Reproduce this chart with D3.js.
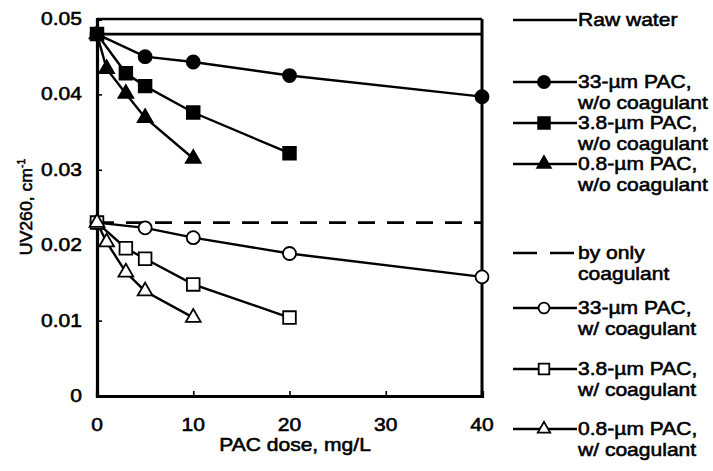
<!DOCTYPE html>
<html>
<head>
<meta charset="utf-8">
<script src="https://cdn.jsdelivr.net/npm/d3@7"></script>
<style>
  html, body { margin: 0; padding: 0; background: #fff; }
  svg { display: block; font-family: "Liberation Sans", Arial, sans-serif; }
  .lbl { fill: #000; stroke: #000; stroke-width: 0.55px; }
</style>
</head>
<body>
<svg id="chart" width="713" height="471"></svg>
<script>
// PAC dose (mg/L) and UV260 (cm^-1) for each run
const doses33 = [0, 5, 10, 20, 40];
const doses38 = [0, 3, 5, 10, 20];
const doses08 = [0, 1, 3, 5, 10];

const rawWater = 0.048;
const onlyCoagulant = 0.023;

const uv33NoCoag = [0.048, 0.0450, 0.0443, 0.0425, 0.0397];
const uv38NoCoag = [0.048, 0.0428, 0.0411, 0.0376, 0.0322];
const uv08NoCoag = [0.048, 0.0434, 0.0401, 0.0369, 0.0315];

const uv33Coag = [0.023, 0.0223, 0.0210, 0.0189, 0.0158];
const uv38Coag = [0.023, 0.0196, 0.0182, 0.0148, 0.0104];
const uv08Coag = [0.023, 0.0204, 0.0164, 0.0139, 0.0104];

const xTicks = [0, 10, 20, 30, 40];
const yTicks = [0, 0.01, 0.02, 0.03, 0.04, 0.05];
const yTickLabels = ["0", "0.01", "0.02", "0.03", "0.04", "0.05"];

const legendLabels = [
  ["Raw water"],
  ["33-µm PAC,", "w/o coagulant"],
  ["3.8-µm PAC,", "w/o coagulant"],
  ["0.8-µm PAC,", "w/o coagulant"],
  ["by only", "coagulant"],
  ["33-µm PAC,", "w/ coagulant"],
  ["3.8-µm PAC,", "w/ coagulant"],
  ["0.8-µm PAC,", "w/ coagulant"]
];

const svg = d3.select("#chart");
const x = d3.scaleLinear().domain([0, 40]).range([97, 482]);
const y = d3.scaleLinear().domain([0, 0.05]).range([396, 19]);

// wide lettering: text is stretched horizontally
const WIDE = 1.17;
function wideText(parent, tx, ty, str, anchor, size) {
  return parent.append("text")
    .attr("class", "lbl")
    .attr("transform", `translate(${tx},${ty}) scale(${WIDE},1)`)
    .attr("text-anchor", anchor)
    .attr("font-size", size)
    .text(str);
}

const series = [
  { xs: doses33, ys: uv33NoCoag, shape: "circle", fill: "#000" },
  { xs: doses38, ys: uv38NoCoag, shape: "square", fill: "#000" },
  { xs: doses08, ys: uv08NoCoag, shape: "triangle", fill: "#000" },
  { xs: doses33, ys: uv33Coag, shape: "circle", fill: "#fff" },
  { xs: doses38, ys: uv38Coag, shape: "square", fill: "#fff" },
  { xs: doses08, ys: uv08Coag, shape: "triangle", fill: "#fff" }
];

const symbolSize = { circle: 133, square: 160, triangle: 95 };
const symbolType = { circle: d3.symbolCircle, square: d3.symbolSquare, triangle: d3.symbolTriangle };
function drawMarker(g, shape, fill, cx, cy, scale = 1) {
  g.append("path")
    .attr("d", d3.symbol().type(symbolType[shape]).size(symbolSize[shape] * scale)())
    .attr("transform", `translate(${cx},${cy})`)
    .attr("fill", fill)
    .attr("stroke", "#000")
    .attr("stroke-width", 1.8);
}

// frame: top and right sides
svg.append("line").attr("x1", x(0)).attr("x2", x(40)).attr("y1", y(0.05)).attr("y2", y(0.05))
  .attr("stroke", "#000").attr("stroke-width", 2.4);
svg.append("line").attr("x1", x(40)).attr("x2", x(40)).attr("y1", y(0.05)).attr("y2", y(0))
  .attr("stroke", "#000").attr("stroke-width", 3);

// reference levels
svg.append("line").attr("x1", x(0)).attr("x2", x(40)).attr("y1", y(rawWater)).attr("y2", y(rawWater))
  .attr("stroke", "#000").attr("stroke-width", 2.6);
svg.append("line").attr("x1", x(0)).attr("x2", x(40)).attr("y1", y(onlyCoagulant)).attr("y2", y(onlyCoagulant))
  .attr("stroke", "#000").attr("stroke-width", 2.6).attr("stroke-dasharray", "17,12");

// axes with inward ticks
const xAxis = d3.axisBottom(x).tickValues(xTicks).tickSize(-5).tickFormat(() => "");
const yAxis = d3.axisLeft(y).tickValues(yTicks).tickSize(-5).tickFormat(() => "");
const gx = svg.append("g").attr("transform", `translate(0,${y(0)})`).call(xAxis);
const gy = svg.append("g").attr("transform", `translate(${x(0)},0)`).call(yAxis);
[gx, gy].forEach(g => {
  g.select(".domain").attr("stroke-width", 3.2);
  g.selectAll(".tick line").attr("stroke-width", 1.6);
});

const gxl = svg.append("g");
xTicks.forEach(d => wideText(gxl, x(d), 431, d, "middle", 18));
const gyl = svg.append("g");
yTicks.forEach((d, i) => wideText(gyl, 82, y(d) + 6, yTickLabels[i], "end", 18));

// axis titles
wideText(svg, 295, 451, "PAC dose, mg/L", "middle", 18);
const yt = svg.append("text").attr("class", "lbl").attr("transform", "translate(32,207) rotate(-90) scale(1.04,1)")
  .attr("text-anchor", "middle").attr("font-size", 17);
yt.append("tspan").text("UV260, cm");
yt.append("tspan").attr("dy", -7).attr("font-size", 10).text("-1");

// data lines and markers
const line = d3.line();
series.forEach(s => {
  const pts = s.xs.map((d, i) => [x(d), y(s.ys[i])]);
  svg.append("path").attr("d", line(pts)).attr("fill", "none")
    .attr("stroke", "#000").attr("stroke-width", 2.4);
});
series.forEach(s => {
  const g = svg.append("g");
  s.xs.forEach((d, i) => drawMarker(g, s.shape, s.fill, x(d), y(s.ys[i])));
});

// legend
const legendY = [20, 82, 123, 164, 253, 308, 369, 429];
const legendMarkers = [null, series[0], series[1], series[2], null, series[3], series[4], series[5]];
legendLabels.forEach((lines, i) => {
  const ly = legendY[i];
  const g = svg.append("g");
  g.append("line").attr("x1", 513).attr("x2", 577).attr("y1", ly).attr("y2", ly)
    .attr("stroke", "#000").attr("stroke-width", 2.4)
    .attr("stroke-dasharray", i === 4 ? "24,13" : null);
  const m = legendMarkers[i];
  if (m) drawMarker(g, m.shape, m.fill, 544, ly, m.fill === "#000" ? 0.85 : 0.7);
  lines.forEach((t, j) => wideText(g, 578, ly + 6 + j * 21, t, "start", 18));
});
</script>
</body>
</html>
